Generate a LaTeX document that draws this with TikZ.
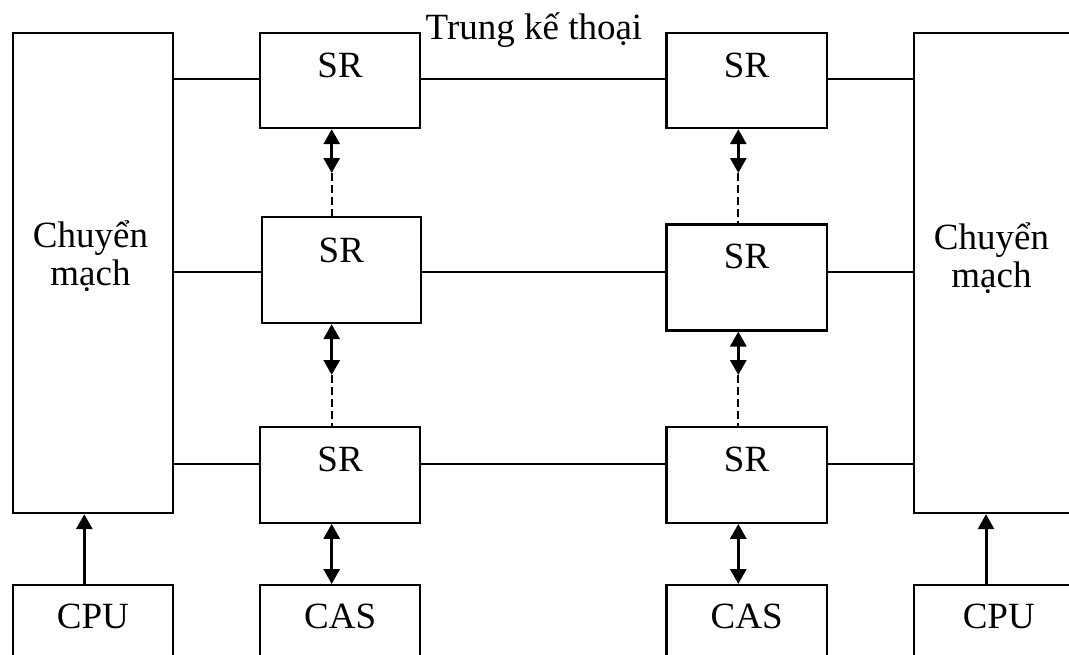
\documentclass[tikz,border=0pt]{standalone}
\usepackage{fontspec}
\setmainfont{Liberation Serif}
\usetikzlibrary{arrows.meta}
\begin{document}
\begin{tikzpicture}[x=1pt,y=-1pt,
  box/.style={draw,line width=2.2pt,inner sep=0pt,fill=none},
  txt/.style={font=\fontsize{37}{38}\selectfont,inner sep=0pt,anchor=base},
  wire/.style={line width=1.8pt},
  sig/.style={line width=3pt,{Triangle[length=15pt,width=16pt]}-{Triangle[length=15pt,width=16pt]}},
  up/.style={line width=3pt,-{Triangle[length=15pt,width=16pt]}},
  dotline/.style={line width=1.8pt,dash pattern=on 8pt off 4pt}]
\useasboundingbox (0,0) rectangle (1069,654);
\clip (0,0) rectangle (1069,654);

% switching blocks and CPUs
\node[box,anchor=north west,minimum width=160.5pt,minimum height=480pt] (swL) at (11.5,32) {};
\node[box,anchor=north west,minimum width=170pt,minimum height=480pt] (swR) at (912.7,32) {};
\node[box,anchor=north west,minimum width=160.5pt,minimum height=90pt] (cpuL) at (11.5,584) {};
\node[box,anchor=north west,minimum width=170pt,minimum height=90pt] (cpuR) at (912.7,584) {};

% SR units, left column
\node[box,anchor=north west,minimum width=160pt,minimum height=95pt] (srL1) at (259,32) {};
\node[box,anchor=north west,minimum width=159.5pt,minimum height=106pt] (srL2) at (260.5,216) {};
\node[box,anchor=north west,minimum width=160pt,minimum height=95.7pt] (srL3) at (259,426) {};
\node[box,anchor=north west,minimum width=160pt,minimum height=90pt] (casL) at (259,584) {};

% SR units, right column
\node[box,anchor=north west,minimum width=160.4pt,minimum height=95pt] (srR1) at (665.3,32) {};
\node[box,anchor=north west,minimum width=160.4pt,minimum height=106pt] (srR2) at (665.3,223.3) {};
\node[box,anchor=north west,minimum width=160.4pt,minimum height=95.7pt] (srR3) at (665.3,426) {};
\node[box,anchor=north west,minimum width=160.4pt,minimum height=90pt] (casR) at (665.3,584) {};

% labels
\node[txt] (t) at (534,39) {Trung kế thoại};
\node[txt,align=center] (chL) at (90.5,285) {Chuyển\\mạch};
\node[txt,align=center] (chR) at (991.5,287) {Chuyển\\mạch};
\node[txt] (lsrL1) at ([yshift=-45.5pt]srL1.north) {SR};
\node[txt] (lsrL2) at ([yshift=-46pt]srL2.north) {SR};
\node[txt] (lsrL3) at ([yshift=-45.5pt]srL3.north) {SR};
\node[txt] (lcasL) at ([yshift=-44pt]casL.north) {CAS};
\node[txt] (lsrR1) at ([yshift=-45.5pt]srR1.north) {SR};
\node[txt] (lsrR2) at ([yshift=-45pt]srR2.north) {SR};
\node[txt] (lsrR3) at ([yshift=-45.5pt]srR3.north) {SR};
\node[txt] (lcasR) at ([yshift=-44pt]casR.north) {CAS};
\node[txt] (lcpuL) at ([yshift=-44pt]cpuL.north) {CPU};
\node[txt] (lcpuR) at ([yshift=-44pt]cpuR.north) {CPU};

% trunk rows and signalling columns
\coordinate (r1) at (0,79.3);
\coordinate (r2) at (0,271.7);
\coordinate (r3) at (0,463.7);
\coordinate (cL) at (331.7,0);
\coordinate (cR) at (738.3,0);
\coordinate (kL) at (84.3,0);
\coordinate (kR) at (986,0);

% trunk lines
\foreach \i in {1,2,3}{
  \draw[wire] (swL.east |- r\i) -- (srL\i.west |- r\i);
  \draw[wire] (srL\i.east |- r\i) -- (srR\i.west |- r\i);
  \draw[wire] (srR\i.east |- r\i) -- (swR.west |- r\i);
}

% signalling links between SR units
\coordinate (aL1) at (331.7,173);
\coordinate (aL2) at (331.7,375);
\coordinate (aR1) at (738.3,173);
\coordinate (aR2) at (738.3,375);
\draw[sig] (srL1.south -| cL) -- (aL1);
\draw[dotline] (aL1) -- (srL2.north -| cL);
\draw[sig] (srL2.south -| cL) -- (aL2);
\draw[dotline] (aL2) -- (srL3.north -| cL);
\draw[sig] (srL3.south -| cL) -- (casL.north -| cL);
\draw[sig] (srR1.south -| cR) -- (aR1);
\draw[dotline] (aR1) -- (srR2.north -| cR);
\draw[sig] (srR2.south -| cR) -- (aR2);
\draw[dotline] (aR2) -- (srR3.north -| cR);
\draw[sig] (srR3.south -| cR) -- (casR.north -| cR);

% control from CPU to switch
\draw[up] (cpuL.north -| kL) -- (swL.south -| kL);
\draw[up] (cpuR.north -| kR) -- (swR.south -| kR);
\end{tikzpicture}
\end{document}
